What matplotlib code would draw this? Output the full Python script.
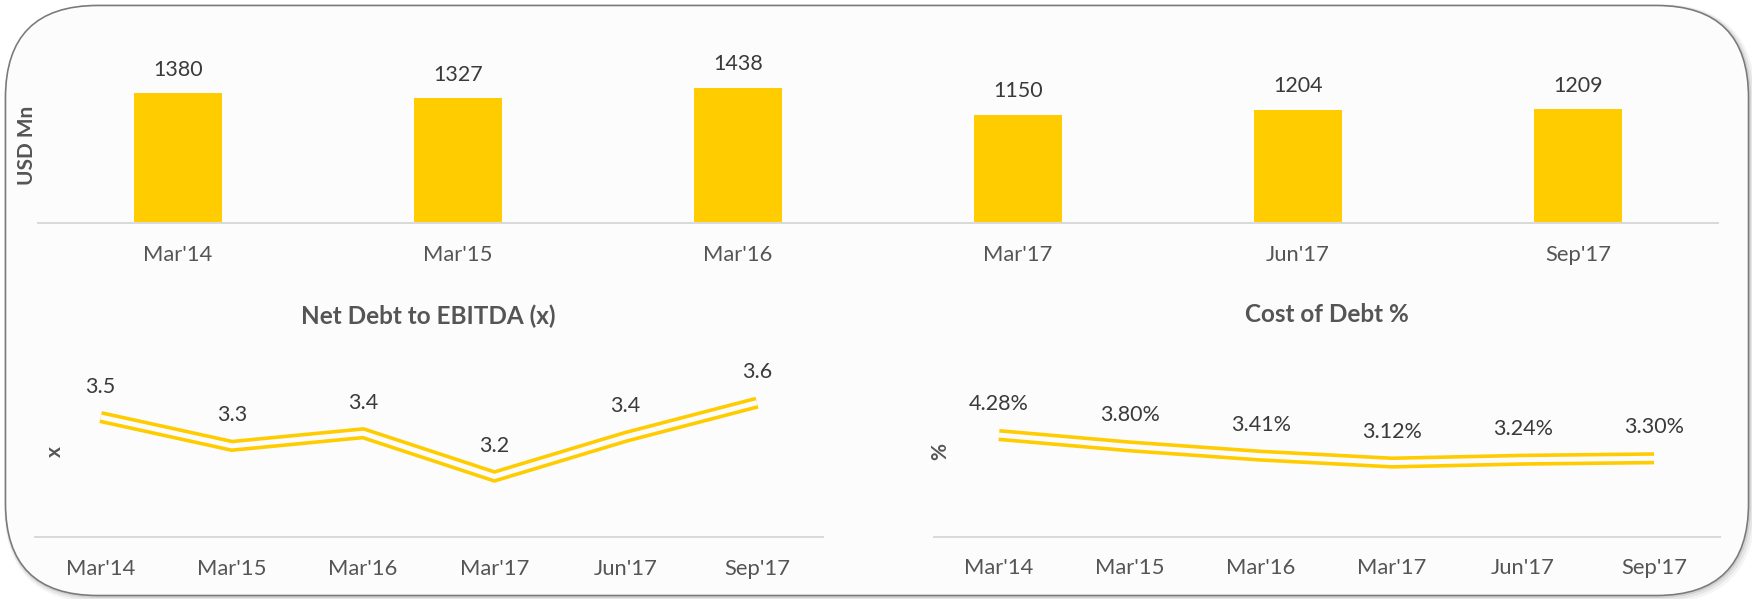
import numpy as np
import matplotlib
matplotlib.use("Agg")
import matplotlib.pyplot as plt
from matplotlib.patches import FancyBboxPatch

W, H, DPI = 1752, 599, 100

periods = ["Mar'14", "Mar'15", "Mar'16", "Mar'17", "Jun'17", "Sep'17"]
debt_usd_mn = [1380, 1327, 1438, 1150, 1204, 1209]
net_debt_ebitda = [3.49, 3.33, 3.40, 3.16, 3.38, 3.57]
cost_of_debt = [4.28, 3.80, 3.41, 3.12, 3.24, 3.30]

YELLOW = "#ffcc00"
PANEL = "#fcfcfc"
LABEL = "#3a3a3a"
GREY = "#555555"
AXLINE = "#d9d9d9"

plt.rcParams["font.family"] = ["Lato", "DejaVu Sans"]


def px(v):
    # pixels -> points at DPI
    return v * 72.0 / DPI


def place(fig, x0, y0, x1, y1):
    # axes from pixel box (top-left origin)
    return fig.add_axes([x0 / W, 1 - y1 / H, (x1 - x0) / W, (y1 - y0) / H])


def style(ax, ylim):
    ax.set_facecolor("none")
    for s in ("left", "right", "top"):
        ax.spines[s].set_visible(False)
    ax.spines["bottom"].set_color(AXLINE)
    ax.spines["bottom"].set_linewidth(px(2))
    ax.set_xlim(-0.5, len(periods) - 0.5)
    ax.set_ylim(*ylim)
    ax.set_yticks([])
    ax.set_xticks(range(len(periods)), periods, va="baseline")
    ax.tick_params(axis="x", length=0, pad=px(38), labelsize=15.8,
                   labelcolor=GREY)


def double_line(ax, y):
    # Excel-style compound line: thick yellow stroke with a panel-coloured core
    x = np.arange(len(y))
    ax.plot(x, y, color=YELLOW, lw=px(12.2), solid_joinstyle="miter",
            solid_capstyle="butt", zorder=3)
    ax.plot(x, y, color=PANEL, lw=px(5), solid_joinstyle="miter",
            solid_capstyle="butt", zorder=4)


def labels(ax, y, fmt, dy):
    for i, v in enumerate(y):
        ax.annotate(fmt.format(v), (i, v), xytext=(0, px(dy)),
                    textcoords="offset points", ha="center", va="baseline",
                    fontsize=15.5, color=LABEL, zorder=5)


fig = plt.figure(figsize=(W / DPI, H / DPI), dpi=DPI)
fig.patch.set_facecolor("white")

# rounded panel with a soft shadow
bg = fig.add_axes([0, 0, 1, 1])
bg.set_xlim(0, W)
bg.set_ylim(H, 0)
bg.axis("off")
box = "round,pad=0,rounding_size=92"
for off, lw, a in [(3, 9, 0.04), (2, 6, 0.06), (1, 3, 0.09)]:
    bg.add_patch(FancyBboxPatch((5.5 + off, 5.5 + off), 1743, 590,
                                boxstyle=box, fill=False, ec="black",
                                lw=px(lw), alpha=a))
bg.add_patch(FancyBboxPatch((5.5, 5.5), 1743, 590, boxstyle=box,
                            fc=PANEL, ec="#7a7a7a", lw=px(1.6)))

# top: debt bars
ax1 = place(fig, 38, 25.8, 1718, 222.7)
style(ax1, (0, 2100))
ax1.bar(range(len(periods)), debt_usd_mn, width=87.7 / 280, color=YELLOW,
        zorder=2)
labels(ax1, debt_usd_mn, "{:d}", 17.5)
fig.text(26.7 / W, 1 - 145 / H, "USD Mn", rotation=90, ha="center",
         va="center", fontsize=15, fontweight="bold", color=GREY)

# bottom left: net debt to EBITDA
ax2 = place(fig, 35, 340, 822.6, 537.3)
lo = 2.822
style(ax2, (lo, lo + 197.3 / 180))
double_line(ax2, net_debt_ebitda)
labels(ax2, net_debt_ebitda, "{:.1f}", 24.5)
fig.text(428.5 / W, 1 - 316 / H, "Net Debt to EBITDA (x)", ha="center",
         va="center", fontsize=17.5, fontweight="bold", color=GREY)
fig.text(55 / W, 1 - 452 / H, "x", rotation=90, ha="center", va="center",
         fontsize=15, fontweight="bold", color=GREY)

# bottom right: cost of debt
ax3 = place(fig, 933.5, 340, 1719.5, 536.5)
style(ax3, (0, 196.5 / 23.7))
double_line(ax3, cost_of_debt)
labels(ax3, cost_of_debt, "{:.2f}%", 25)
fig.text(1327 / W, 1 - 314 / H, "Cost of Debt %", ha="center",
         va="center", fontsize=17.5, fontweight="bold", color=GREY)
fig.text(940.7 / W, 1 - 451.7 / H, "%", rotation=90, ha="center",
         va="center", fontsize=15, fontweight="bold", color=GREY)

fig.savefig("out.png", dpi=DPI, facecolor=fig.get_facecolor())
